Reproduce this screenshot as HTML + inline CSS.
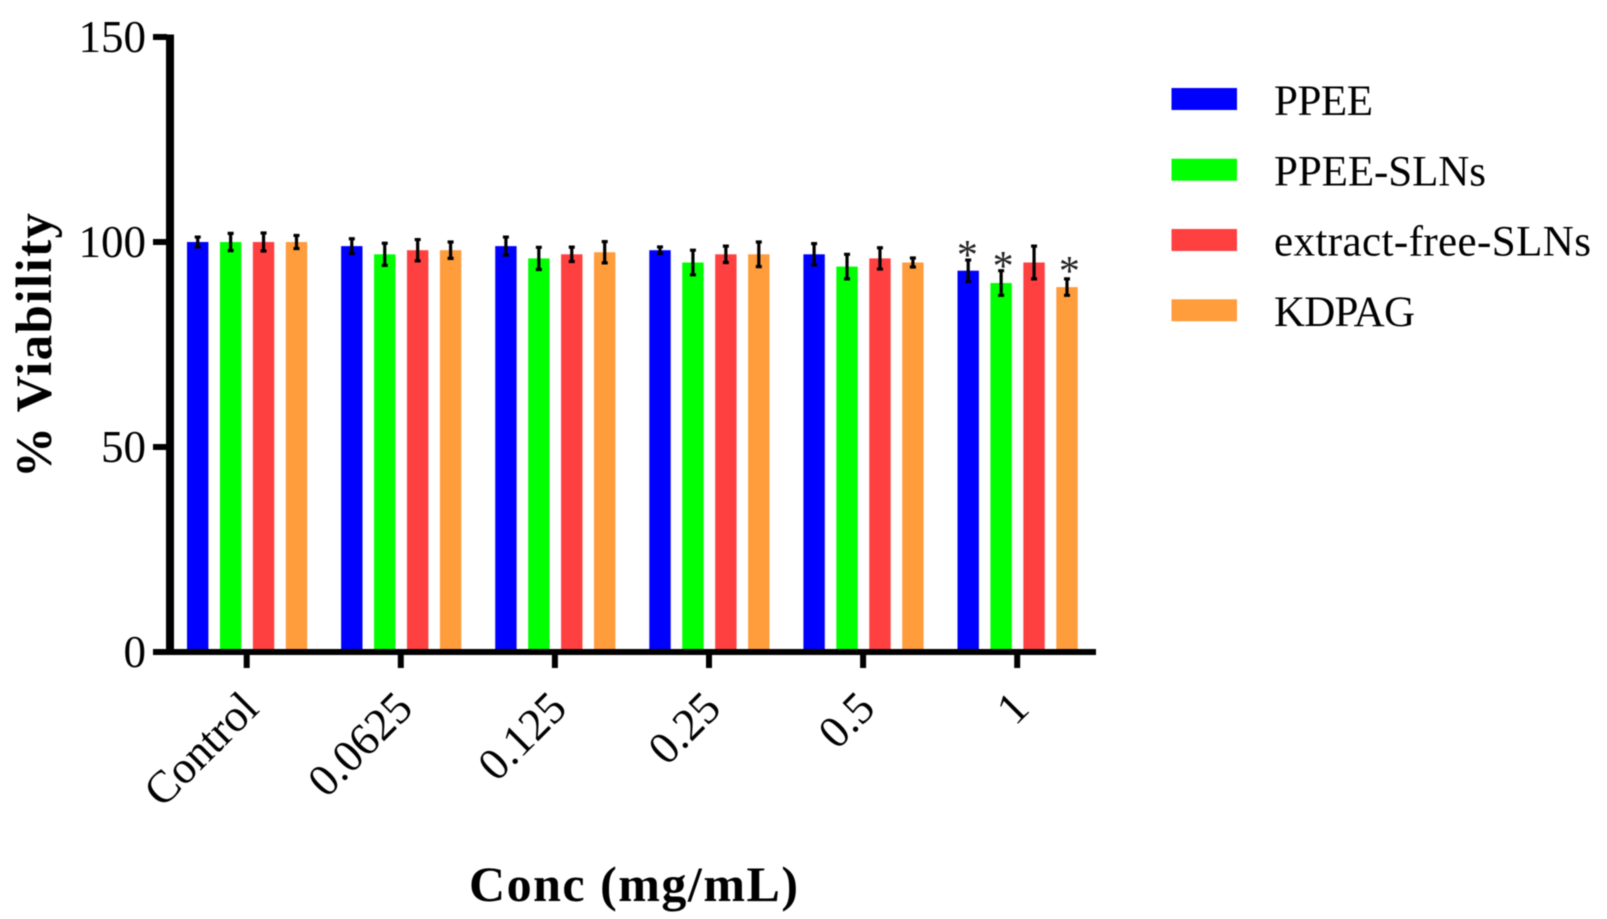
<!DOCTYPE html>
<html lang="en">
<head>
<meta charset="utf-8">
<title>% Viability by concentration</title>
<style>
  html, body { margin: 0; padding: 0; background: #fff; }
  #chart { display: block; width: 1607px; height: 919px; filter: blur(0.55px); }
  text { font-family: "Liberation Serif", "Times New Roman", serif; fill: #000; }
</style>
</head>
<body>
<svg id="chart" xmlns="http://www.w3.org/2000/svg" width="1607" height="919" viewBox="0 0 1607 919"></svg>
<script>
// ---- data ----
const categories = ["Control", "0.0625", "0.125", "0.25", "0.5", "1"];
const seriesNames = ["PPEE", "PPEE-SLNs", "extract-free-SLNs", "KDPAG"];
const ppee = [100, 99, 99, 98, 97, 93];
const ppeeSlns = [100, 97, 96, 95, 94, 90];
const extractFreeSlns = [100, 98, 97, 97, 96, 95];
const kdpag = [100, 98, 97.5, 97, 95, 89];
const ppeeErr = [1.2, 1.8, 2.2, 0.8, 2.6, 2.6];
const ppeeSlnsErr = [2.1, 2.7, 2.7, 3, 3, 3];
const extractFreeSlnsErr = [2.2, 2.6, 1.75, 2, 2.6, 4];
const kdpagErr = [1.6, 2, 2.6, 3, 1.1, 2];
const sigPpee = [null, null, null, null, null, 97.9];
const sigPpeeSlns = [null, null, null, null, null, 95.2];
const sigExtractFreeSlns = [null, null, null, null, null, null];
const sigKdpag = [null, null, null, null, null, 94];
const yTicks = [0, 50, 100, 150];
const seriesColors = ["#0000ff", "#00ff00", "#ff4040", "#ff9c3c"];

const seriesValues = [ppee, ppeeSlns, extractFreeSlns, kdpag];
const seriesErrors = [ppeeErr, ppeeSlnsErr, extractFreeSlnsErr, kdpagErr];
const seriesSig = [sigPpee, sigPpeeSlns, sigExtractFreeSlns, sigKdpag];

// ---- axis functions ----
function yScale(v) { return 652 - v * 4.1; }
function groupCenter(i) { return 247.1 + i * 154.1; }
function barCenter(i, s) { return groupCenter(i) + (s - 1.5) * 32.93; }

const NS = "http://www.w3.org/2000/svg";
const svg = document.getElementById("chart");
function make(tag, attrs, parent) {
  const el = document.createElementNS(NS, tag);
  for (const k in attrs) el.setAttribute(k, attrs[k]);
  (parent || svg).appendChild(el);
  return el;
}

// ---- bars ----
const barsLayer = make("g", {});


const barWidth = 21.4;
seriesValues.forEach(function (values, s) {
  values.forEach(function (v, i) {
    const bar = make("rect", {
      x: barCenter(i, s) - barWidth / 2,
      y: yScale(v),
      width: barWidth,
      height: yScale(0) - yScale(v),
      fill: seriesColors[s]
    }, barsLayer);
    
    
  });
});

// ---- error bars ----
const errLayer = make("g", { stroke: "#000", fill: "none" });


seriesValues.forEach(function (values, s) {
  values.forEach(function (v, i) {
    const e = seriesErrors[s][i];
    const cx = barCenter(i, s);
    const hi = yScale(v + e), lo = yScale(v - e);
    const err = make("path", {
      d: "M" + cx + " " + hi + "V" + lo +
         "M" + (cx - 3) + " " + hi + "H" + (cx + 3) +
         "M" + (cx - 3) + " " + lo + "H" + (cx + 3),
      "stroke-width": 3.2
    }, errLayer);
    
    
  });
});

// ---- significance marks ----
function starShift(s) { return s === 0 ? -0.8 : (s === 1 ? 2 : 2.4); }
seriesSig.forEach(function (marks, s) {
  marks.forEach(function (m, i) {
    if (m === null) return;
    const star = make("text", {
      x: barCenter(i, s) + starShift(s),
      y: yScale(m) + 18.5,
      "text-anchor": "middle",
      "font-size": 42,
      style: "fill:#222"
    });
    star.textContent = "*";
    
    
  });
});

// ---- axes ----
const yLine = make("rect", { x: 166, y: yScale(150) - 2.5, width: 8, height: yScale(0) - yScale(150) + 5.5, fill: "#000" });


const xLine = make("rect", { x: 153, y: 649, width: 943, height: 6, fill: "#000" });



yTicks.forEach(function (t) {
  const tick = make("rect", { x: 153, y: yScale(t) - 3, width: 14, height: 6, fill: "#000" });
  
  
  const label = make("text", { x: 146, y: yScale(t) + 15, "text-anchor": "end", "font-size": 45 });
  label.textContent = String(t);
  
  
});

categories.forEach(function (c, i) {
  const x = groupCenter(i) - 0.4;
  const tick = make("rect", { x: x - 3, y: 654, width: 6, height: 14, fill: "#000" });
  
  
  const lx = x + 14, ly = 710.5;
  const label = make("text", {
    x: lx, y: ly,
    "text-anchor": "end",
    "font-size": 45.5,
    transform: "rotate(-45 " + lx + " " + ly + ")"
  });
  label.textContent = c;
  
  
});

// ---- legend ----
const legendSwatchY = [88, 158.7, 229, 299.3];
const legendLabelY = [115, 185.5, 255.7, 326];
const legendLabelLen = [99, 212, 317, 141];
seriesNames.forEach(function (name, s) {
  const group = make("g", {});
  
  
  const swatch = make("rect", { x: 1171.5, y: legendSwatchY[s], width: 65.5, height: 22, fill: seriesColors[s] }, group);
  
  
  const label = make("text", { x: 1274, y: legendLabelY[s], "font-size": 43, textLength: legendLabelLen[s], lengthAdjust: "spacing" }, group);
  label.textContent = name;
  
  
});

// ---- axis titles ----
const xTitle = make("text", { x: 469, y: 901, "font-size": 50, "font-weight": "bold", textLength: 329, lengthAdjust: "spacing" });
xTitle.textContent = "Conc (mg/mL)";


const yTitle = make("text", { x: 0, y: 0, "font-size": 51, "font-weight": "bold", textLength: 265, lengthAdjust: "spacing", transform: "translate(51 478) rotate(-90)" });
yTitle.textContent = "% Viability";


</script>
</body>
</html>
